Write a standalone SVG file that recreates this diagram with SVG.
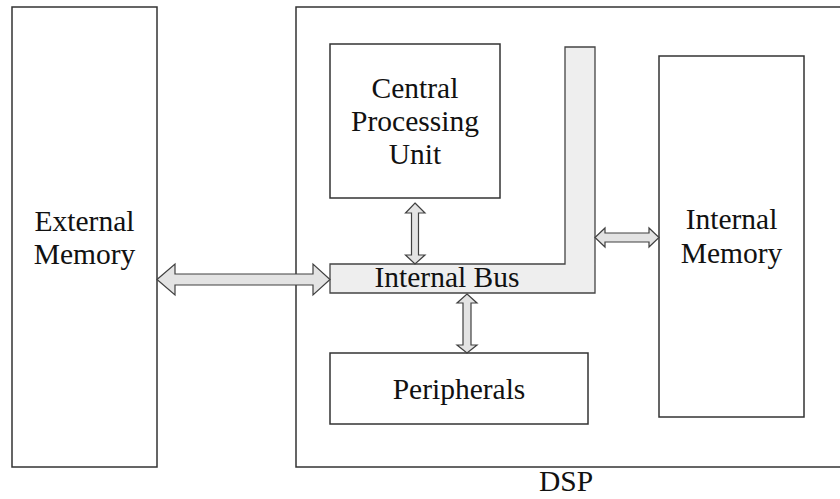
<svg xmlns="http://www.w3.org/2000/svg" width="840" height="499" viewBox="0 0 840 499">
  <style>
    .box { fill: #ffffff; stroke: #333333; stroke-width: 1.5; }
    .bus { fill: #eeeeee; stroke: #444444; stroke-width: 1.3; }
    .arrow { fill: #e3e3e3; stroke: #404040; stroke-width: 1.2; stroke-linejoin: miter; }
    .label { font-family: "Liberation Serif", "Times New Roman", serif; font-size: 29.5px; fill: #111111; text-anchor: middle; }
  </style>
  <rect width="840" height="499" fill="#ffffff"/>

  <g id="dsp">
    <rect class="box" x="296" y="7" width="560" height="460"/>
    <text class="label" x="566" y="491">DSP</text>
  </g>

  <g id="external-memory">
    <rect class="box" x="12" y="7" width="145" height="460"/>
    <text class="label" x="84.5" y="231">External</text>
    <text class="label" x="84.5" y="264">Memory</text>
  </g>

  <g id="cpu">
    <rect class="box" x="330" y="44" width="170" height="154"/>
    <text class="label" x="415" y="98">Central</text>
    <text class="label" x="415" y="131">Processing</text>
    <text class="label" x="415" y="164">Unit</text>
  </g>

  <g id="internal-bus">
    <path class="bus" d="M565,47 H595 V293 H330 V264 H565 Z"/>
    <text class="label" x="447" y="287">Internal Bus</text>
  </g>

  <g id="internal-memory">
    <rect class="box" x="659" y="56" width="145" height="361"/>
    <text class="label" x="731.5" y="229">Internal</text>
    <text class="label" x="731.5" y="263">Memory</text>
  </g>

  <g id="peripherals">
    <rect class="box" x="330" y="353" width="258" height="71"/>
    <text class="label" x="459" y="399">Peripherals</text>
  </g>

  <g id="connectors">
    <!-- External Memory <-> Internal Bus -->
    <path class="arrow" d="M157,279.5 L175,264 V274 H313 V264 L330,279.5 L313,295 V285 H175 V295 Z"/>
    <!-- CPU <-> Internal Bus -->
    <path class="arrow" d="M415,203 L425,213 H418.5 V255 H425 L415,264 L405.5,255 H411.5 V213 H405.5 Z"/>
    <!-- Internal Bus <-> Peripherals -->
    <path class="arrow" d="M467,294 L477,303 H471 V345 H477 L467,353 L457,345 H463 V303 H457 Z"/>
    <!-- Internal Bus <-> Internal Memory -->
    <path class="arrow" d="M595,237.5 L605,228 V233 H649 V228 L659,237.5 L649,247 V242 H605 V247 Z"/>
  </g>
</svg>
